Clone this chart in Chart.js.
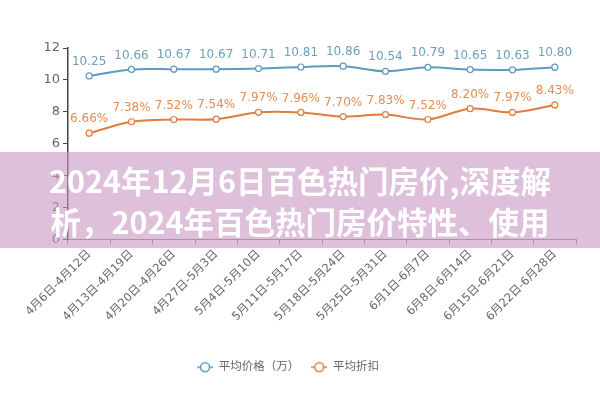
<!DOCTYPE html>
<html>
<head>
<meta charset="utf-8">
<script src="https://cdn.jsdelivr.net/npm/chart.js@4"></script>
<style>
  html, body { margin: 0; padding: 0; background: #fff; }
  #wrap { position: relative; width: 600px; height: 400px; }
  #band {
    position: absolute; left: 0; top: 152px; width: 600px; height: 96px;
    background: rgba(200, 150, 195, 0.6);
    color: #fff; font-family: "Noto Sans CJK SC", sans-serif; font-weight: 700;
    font-size: 30.5px; line-height: 41px; text-align: center;
    box-sizing: border-box; padding-top: 8px;
  }
</style>
</head>
<body>
<div id="wrap">
  <canvas id="chart" width="600" height="400"></canvas>
  <div id="band">2024年12月6日百色热门房价,深度解<br>析，2024年百色热门房价特性、使用</div>
</div>
<script>
// weekly ranges
const categories = [
  '4月6日-4月12日', '4月13日-4月19日', '4月20日-4月26日', '4月27日-5月3日',
  '5月4日-5月10日', '5月11日-5月17日', '5月18日-5月24日', '5月25日-5月31日',
  '6月1日-6月7日', '6月8日-6月14日', '6月15日-6月21日', '6月22日-6月28日'
];
const avgPrice = [10.25, 10.66, 10.67, 10.67, 10.71, 10.81, 10.86, 10.54, 10.79, 10.65, 10.63, 10.80];
const avgDiscount = [6.66, 7.38, 7.52, 7.54, 7.97, 7.96, 7.70, 7.83, 7.52, 8.20, 7.97, 8.43];
const yTicks = [0, 2, 4, 6, 8, 10, 12];

const BLUE = '#5b9cc0';
const ORANGE = '#e07c3c';
const FONT = '"DejaVu Sans", "Noto Sans CJK SC", sans-serif';

// legend icon: short line with hollow circle, echarts style
function legendIcon(color) {
  const c = document.createElement('canvas');
  c.width = 16; c.height = 12;
  const g = c.getContext('2d');
  g.strokeStyle = color; g.lineWidth = 1.5;
  g.beginPath(); g.moveTo(0, 6); g.lineTo(16, 6); g.stroke();
  g.fillStyle = '#fff';
  g.beginPath(); g.arc(8, 6, 4.5, 0, Math.PI * 2); g.fill(); g.stroke();
  return c;
}

// value labels above each point
const pointLabels = {
  id: 'pointLabels',
  afterDatasetsDraw(chart) {
    const ctx = chart.ctx;
    ctx.save();
    ctx.font = '12px ' + FONT;
    ctx.textAlign = 'center';
    ctx.textBaseline = 'middle';
    chart.data.datasets.forEach((ds, i) => {
      const meta = chart.getDatasetMeta(i);
      ctx.fillStyle = ds.labelColor;
      meta.data.forEach((pt, j) => {
        ctx.fillText(ds.fmt(ds.data[j]), pt.x, pt.y - 14);
      });
    });
    ctx.restore();
  }
};

new Chart(document.getElementById('chart'), {
  type: 'line',
  data: {
    labels: categories,
    datasets: [
      {
        label: '平均价格（万）',
        data: avgPrice,
        borderColor: BLUE,
        backgroundColor: '#fff',
        pointBorderColor: BLUE,
        pointBackgroundColor: '#fff',
        borderWidth: 2,
        pointRadius: 3,
        pointBorderWidth: 1.2,
        tension: 0.35,
        labelColor: '#6c9fba',
        fmt: (v) => v.toFixed(2),
        legendIcon: legendIcon(BLUE),
      },
      {
        label: '平均折扣',
        data: avgDiscount,
        borderColor: ORANGE,
        backgroundColor: '#fff',
        pointBorderColor: ORANGE,
        pointBackgroundColor: '#fff',
        borderWidth: 2,
        pointRadius: 3,
        pointBorderWidth: 1.2,
        tension: 0.35,
        labelColor: '#e58c52',
        fmt: (v) => v.toFixed(2) + '%',
        legendIcon: legendIcon(ORANGE),
      },
    ],
  },
  options: {
    responsive: false,
    animation: false,
    layout: { padding: { top: 48, right: 24, bottom: 17, left: 0 } },
    scales: {
      x: {
        offset: true,
        grid: { display: true, drawOnChartArea: false, drawTicks: true, tickLength: 5, offset: true, color: '#888' },
        border: { color: '#888', width: 1 },
        ticks: {
          minRotation: 45, maxRotation: 45, autoSkip: false, padding: 3,
          color: '#666', font: { size: 11.5, family: FONT },
        },
        afterFit: (s) => { s.height = 110; },
      },
      y: {
        min: 0, max: 12,
        afterBuildTicks: (s) => { s.ticks = yTicks.map((v) => ({ value: v })); },
        grid: { display: true, drawOnChartArea: false, drawTicks: true, tickLength: 5, color: '#444' },
        border: { color: '#444', width: 1.5 },
        ticks: { color: '#666', padding: 3, font: { size: 13, family: FONT } },
        afterFit: (s) => { s.width = 68; },
      },
    },
    plugins: {
      legend: {
        position: 'bottom',
        labels: {
          usePointStyle: true,
          pointStyleWidth: 16,
          padding: 12,
          color: '#666',
          font: { size: 11.5, family: FONT },
          generateLabels: (chart) => chart.data.datasets.map((ds, i) => ({
            text: ds.label,
            pointStyle: ds.legendIcon,
            fillStyle: '#fff',
            strokeStyle: ds.borderColor,
            lineWidth: 0,
            fontColor: '#666',
            datasetIndex: i,
            hidden: false,
          })),
        },
      },
      tooltip: { enabled: false },
    },
  },
  plugins: [pointLabels],
});
</script>
</body>
</html>
